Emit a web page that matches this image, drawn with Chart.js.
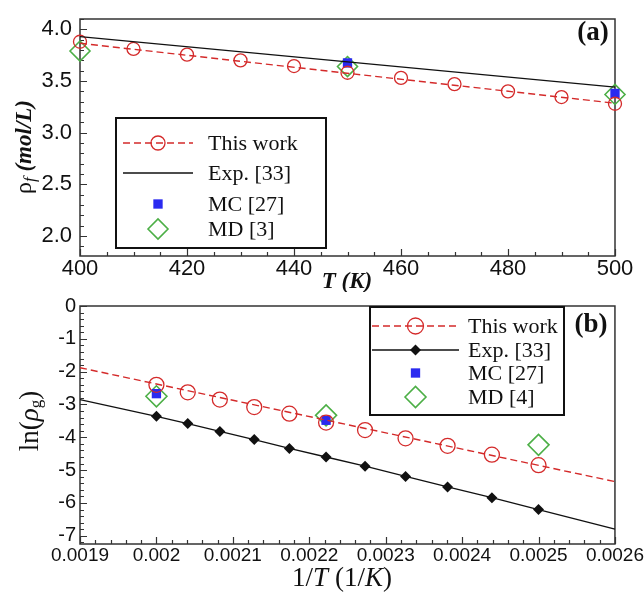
<!DOCTYPE html>
<html>
<head>
<meta charset="utf-8">
<script src="https://cdn.jsdelivr.net/npm/chart.js@4.4.0/dist/chart.umd.min.js"></script>
<style>
  body { margin: 0; background: #fff; }
  #wrap { position: relative; width: 644px; height: 594px; }
  #wrap canvas { position: absolute; left: 0; }
</style>
</head>
<body>
<div id="wrap">
  <canvas id="chartA" width="644" height="292" style="top:0"></canvas>
  <canvas id="chartB" width="644" height="302" style="top:292px"></canvas>
</div>
<script>
// ---- donnees panneau (a) : densite du liquide ----
const tempK = [400, 410, 420, 430, 440, 450, 460, 470, 480, 490, 500];
const rhoThisWork = [3.88, 3.81, 3.755, 3.70, 3.645, 3.58, 3.53, 3.47, 3.40, 3.345, 3.28];
const rhoFitT = [400, 500];
const rhoFit = [3.865, 3.285];
const rhoExpT = [400, 500];
const rhoExp = [3.93, 3.44];
const rhoMcT = [450, 500];
const rhoMc = [3.675, 3.38];
const rhoMdT = [400, 450, 500];
const rhoMd = [3.79, 3.64, 3.37];
const ticksTa = [400, 420, 440, 460, 480, 500];
const ticksRho = [2.0, 2.5, 3.0, 3.5, 4.0];
const namesA = ["This work", "Exp. [33]", "MC [27]", "MD [3]"];

// ---- donnees panneau (b) : ln de la densite vapeur ----
const invT = [0.002, 0.002041, 0.002083, 0.002128, 0.002174, 0.002222, 0.002273, 0.002326, 0.002381, 0.002439, 0.0025];
const lnThisWork = [-2.40, -2.63, -2.85, -3.08, -3.28, -3.55, -3.78, -4.03, -4.26, -4.53, -4.85];
const lnFitX = [0.0019, 0.0026];
const lnFit = [-1.88, -5.35];
const lnExpX = [0.0019, 0.002, 0.002041, 0.002083, 0.002128, 0.002174, 0.002222, 0.002273, 0.002326, 0.002381, 0.002439, 0.0025, 0.0026];
const lnExp = [-2.85, -3.36, -3.58, -3.82, -4.07, -4.34, -4.60, -4.88, -5.19, -5.51, -5.84, -6.20, -6.80];
const lnMcX = [0.002, 0.002222];
const lnMc = [-2.67, -3.48];
const lnMdX = [0.002, 0.002222, 0.0025];
const lnMd = [-2.75, -3.33, -4.23];
const ticksInvT = [0.0019, 0.002, 0.0021, 0.0022, 0.0023, 0.0024, 0.0025, 0.0026];
const ticksLn = [0, -1, -2, -3, -4, -5, -6, -7];
const namesB = ["This work", "Exp. [33]", "MC [27]", "MD [4]"];

const RED = "#d42a2a";
const BLUE = "#2a2af0";
const GREEN = "#4caf46";
const SERIF = "'Liberation Serif', 'Times New Roman', serif";
const SANS = "'Liberation Sans', Arial, sans-serif";

function pts(xs, ys) {
    return xs.map((x, i) => ({ x: x, y: ys[i] }));
}

// dessin d'un marqueur (legende)
function marker(ctx, m, x, y) {
    ctx.save();
    ctx.lineWidth = m.width || 1.3;
    ctx.strokeStyle = m.stroke || "transparent";
    ctx.fillStyle = m.fill || "transparent";
    ctx.beginPath();
    if (m.shape === "circle") {
        ctx.arc(x, y, m.r, 0, Math.PI * 2);
    } else if (m.shape === "rect") {
        const s = m.r * Math.SQRT1_2;
        ctx.rect(x - s, y - s, 2 * s, 2 * s);
    } else {
        ctx.moveTo(x - m.r, y); ctx.lineTo(x, y - m.r);
        ctx.lineTo(x + m.r, y); ctx.lineTo(x, y + m.r); ctx.closePath();
    }
    if (m.fill) ctx.fill();
    if (m.stroke) ctx.stroke();
    ctx.restore();
}

// texte en plusieurs morceaux (styles differents)
function richWidth(ctx, parts) {
    let w = 0;
    parts.forEach(p => { ctx.font = p.font; w += ctx.measureText(p.t).width; });
    return w;
}
function richText(ctx, parts, cx, cy, rot) {
    ctx.save();
    ctx.translate(cx, cy);
    if (rot) ctx.rotate(rot);
    ctx.textBaseline = "middle";
    ctx.fillStyle = "#111";
    let x = -richWidth(ctx, parts) / 2;
    parts.forEach(p => {
        ctx.font = p.font;
        ctx.fillText(p.t, x, p.dy || 0);
        x += ctx.measureText(p.t).width;
    });
    ctx.restore();
}

// cadre + graduations vers l'interieur
const cadrePlugin = {
    id: "cadre",
    beforeDatasetsDraw(chart, args, opts) {
        const ctx = chart.ctx;
        const a = chart.chartArea;
        const sx = chart.scales.x, sy = chart.scales.y;
        ctx.save();
        ctx.strokeStyle = "#333";
        ctx.lineWidth = 1.5;
        ctx.strokeRect(a.left, a.top, a.right - a.left, a.bottom - a.top);
        ctx.lineWidth = 1.2;
        ctx.beginPath();
        for (let v = sx.min; v <= sx.max + opts.xMinor / 2; v += opts.xMinor) {
            const major = opts.xMajor.some(m => Math.abs(m - v) < opts.xMinor / 10);
            const px = Math.round(sx.getPixelForValue(v)) + 0.5;
            ctx.moveTo(px, a.bottom);
            ctx.lineTo(px, a.bottom - (major ? 7 : 4));
        }
        const y0 = Math.ceil(sy.min / opts.yMinor - 1e-6) * opts.yMinor;
        for (let v = y0; v <= sy.max + 1e-9; v += opts.yMinor) {
            const major = opts.yMajor.some(m => Math.abs(m - v) < opts.yMinor / 10);
            const py = Math.round(sy.getPixelForValue(v)) + 0.5;
            ctx.moveTo(a.left, py);
            ctx.lineTo(a.left + (major ? 7 : 4), py);
        }
        ctx.stroke();
        ctx.restore();
    },
    afterDraw(chart, args, opts) {
        const ctx = chart.ctx;
        // titres des axes
        richText(ctx, opts.xTitle.parts, opts.xTitle.x, opts.xTitle.y, 0);
        richText(ctx, opts.yTitle.parts, opts.yTitle.x, opts.yTitle.y, -Math.PI / 2);
        // etiquette du panneau
        ctx.save();
        ctx.font = "bold 27px " + SERIF;
        ctx.fillStyle = "#111";
        ctx.textAlign = "center";
        ctx.textBaseline = "middle";
        ctx.fillText(opts.panel.t, opts.panel.x, opts.panel.y);
        ctx.restore();
        // legende
        const L = opts.legend;
        ctx.save();
        ctx.fillStyle = "#fff";
        ctx.fillRect(L.left, L.top, L.right - L.left, L.bottom - L.top);
        ctx.strokeStyle = "#111";
        ctx.lineWidth = 2;
        ctx.strokeRect(L.left, L.top, L.right - L.left, L.bottom - L.top);
        L.items.forEach((it, i) => {
            const y = L.rows[i];
            if (it.line) {
                ctx.save();
                ctx.strokeStyle = it.line.color;
                ctx.lineWidth = 1.4;
                ctx.setLineDash(it.line.dash || []);
                ctx.beginPath();
                ctx.moveTo(L.x1, y);
                ctx.lineTo(L.x2, y);
                ctx.stroke();
                ctx.restore();
            }
            if (it.marker) marker(ctx, it.marker, (L.x1 + L.x2) / 2, y);
            ctx.font = "22px " + SERIF;
            ctx.fillStyle = "#111";
            ctx.textBaseline = "middle";
            ctx.fillText(it.label, L.tx, y + 1);
        });
        ctx.restore();
    }
};

function axeX(min, max, ticks, fmt, h, size) {
    return {
        type: "linear", min: min, max: max,
        grid: { display: false, drawTicks: false },
        border: { display: false },
        afterBuildTicks: s => { s.ticks = ticks.map(v => ({ value: v })); },
        afterFit: s => { s.height = h; },
        ticks: { font: { family: SANS, size: size }, color: "#111", padding: 0, maxRotation: 0, autoSkip: false, callback: fmt }
    };
}
function axeY(min, max, ticks, fmt, size, pad) {
    return {
        type: "linear", min: min, max: max,
        grid: { display: false, drawTicks: false },
        border: { display: false },
        afterBuildTicks: s => { s.ticks = ticks.map(v => ({ value: v })); },
        afterFit: s => { s.width = 80; },
        ticks: { font: { family: SANS, size: size, lineHeight: 1 }, color: "#111", padding: pad, autoSkip: false, callback: fmt }
    };
}

// ---- panneau (a) ----
new Chart(document.getElementById("chartA"), {
    type: "scatter",
    data: {
        datasets: [
            { label: "fit", type: "line", data: pts(rhoFitT, rhoFit), borderColor: RED, borderWidth: 1.4, borderDash: [7, 4], pointRadius: 0, clip: false },
            { label: namesA[1], type: "line", data: pts(rhoExpT, rhoExp), borderColor: "#111", borderWidth: 1.3, pointRadius: 0, clip: false },
            { label: namesA[0], data: pts(tempK, rhoThisWork), pointStyle: "circle", pointRadius: 6.5, borderColor: RED, backgroundColor: "transparent", borderWidth: 1.3, clip: false },
            { label: namesA[2], data: pts(rhoMcT, rhoMc), pointStyle: "rect", pointRadius: 6.6, borderWidth: 0, backgroundColor: BLUE, borderColor: BLUE, clip: false },
            { label: namesA[3], data: pts(rhoMdT, rhoMd), pointStyle: "rectRot", pointRadius: 10, borderColor: GREEN, backgroundColor: "transparent", borderWidth: 1.6, clip: false }
        ]
    },
    options: {
        responsive: false,
        animation: false,
        layout: { padding: { top: 14, right: 29, left: 0, bottom: 0 } },
        scales: {
            x: axeX(400, 500, ticksTa, v => String(v), 36, 22),
            y: axeY(1.807, 4.10, ticksRho, v => v.toFixed(1), 22, 8)
        },
        plugins: {
            legend: { display: false },
            tooltip: { enabled: false },
            cadre: {
                xMinor: 5, xMajor: ticksTa, yMinor: 0.1, yMajor: ticksRho,
                xTitle: { x: 347, y: 282, parts: [{ t: "T (K)", font: "italic bold 23px " + SERIF }] },
                yTitle: { x: 25, y: 147, parts: [
                    { t: "\u03C1", font: "24px " + SERIF },
                    { t: "f", font: "italic 17px " + SERIF, dy: 6 },
                    { t: " (mol/L)", font: "italic bold 23px " + SERIF }
                ] },
                panel: { t: "(a)", x: 593, y: 33 },
                legend: {
                    left: 116, top: 118, right: 326, bottom: 248,
                    x1: 123, x2: 193, tx: 208, rows: [143, 173, 204, 229],
                    items: [
                        { label: namesA[0], line: { color: RED, dash: [7, 4] }, marker: { shape: "circle", r: 7, stroke: RED } },
                        { label: namesA[1], line: { color: "#111" } },
                        { label: namesA[2], marker: { shape: "rect", r: 6.6, fill: BLUE } },
                        { label: namesA[3], marker: { shape: "diamond", r: 10, stroke: GREEN, width: 1.6 } }
                    ]
                }
            }
        }
    },
    plugins: [cadrePlugin]
});

// ---- panneau (b) ----
new Chart(document.getElementById("chartB"), {
    type: "scatter",
    data: {
        datasets: [
            { label: "fit", type: "line", data: pts(lnFitX, lnFit), borderColor: RED, borderWidth: 1.4, borderDash: [7, 4], pointRadius: 0, clip: false },
            { label: namesB[1], type: "line", data: pts(lnExpX, lnExp), borderColor: "#111", borderWidth: 1.3, backgroundColor: "#111",
              pointStyle: "rectRot", pointRadius: c => (c.dataIndex === 0 || c.dataIndex === lnExpX.length - 1) ? 0 : 5.5, pointBorderWidth: 0, clip: false },
            { label: namesB[0], data: pts(invT, lnThisWork), pointStyle: "circle", pointRadius: 7.5, borderColor: RED, backgroundColor: "transparent", borderWidth: 1.3, clip: false },
            { label: namesB[2], data: pts(lnMcX, lnMc), pointStyle: "rect", pointRadius: 6.6, borderWidth: 0, backgroundColor: BLUE, borderColor: BLUE, clip: false },
            { label: namesB[3], data: pts(lnMdX, lnMd), pointStyle: "rectRot", pointRadius: 10.5, borderColor: GREEN, backgroundColor: "transparent", borderWidth: 1.6, clip: false }
        ]
    },
    options: {
        responsive: false,
        animation: false,
        layout: { padding: { top: 10, right: 29, left: 0, bottom: 0 } },
        scales: {
            x: axeX(0.0019, 0.0026, ticksInvT, v => String(Number(v.toFixed(4))), 50, 19),
            y: axeY(-7.25, 0, ticksLn, v => String(v), 20, 4)
        },
        plugins: {
            legend: { display: false },
            tooltip: { enabled: false },
            cadre: {
                xMinor: 0.00002, xMajor: ticksInvT, yMinor: 0.2, yMajor: ticksLn,
                xTitle: { x: 342, y: 287, parts: [
                    { t: "1/", font: "27px " + SERIF },
                    { t: "T", font: "italic 27px " + SERIF },
                    { t: " (1/", font: "27px " + SERIF },
                    { t: "K", font: "italic 27px " + SERIF },
                    { t: ")", font: "27px " + SERIF }
                ] },
                yTitle: { x: 31, y: 129, parts: [
                    { t: "ln(", font: "27px " + SERIF },
                    { t: "\u03C1", font: "italic 27px " + SERIF },
                    { t: "g", font: "17px " + SERIF, dy: 6 },
                    { t: ")", font: "27px " + SERIF }
                ] },
                panel: { t: "(b)", x: 591, y: 33 },
                legend: {
                    left: 370, top: 15, right: 564, bottom: 123,
                    x1: 372, x2: 459, tx: 468, rows: [34, 58, 81, 105],
                    items: [
                        { label: namesB[0], line: { color: RED, dash: [7, 4] }, marker: { shape: "circle", r: 8, stroke: RED } },
                        { label: namesB[1], line: { color: "#111" }, marker: { shape: "diamond", r: 5.5, fill: "#111" } },
                        { label: namesB[2], marker: { shape: "rect", r: 6.6, fill: BLUE } },
                        { label: namesB[3], marker: { shape: "diamond", r: 10.5, stroke: GREEN, width: 1.6 } }
                    ]
                }
            }
        }
    },
    plugins: [cadrePlugin]
});
</script>
</body>
</html>
